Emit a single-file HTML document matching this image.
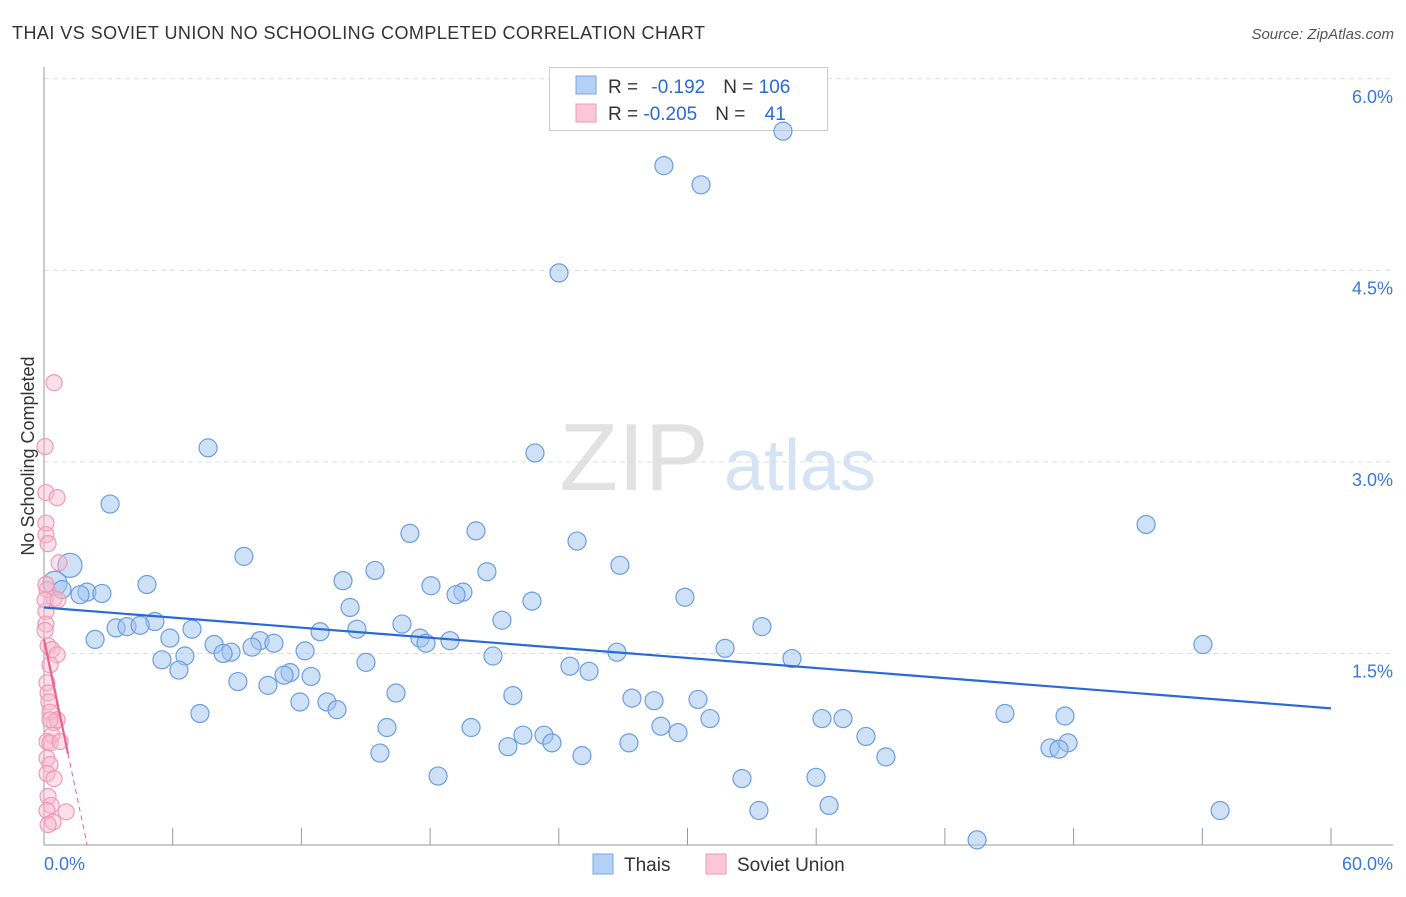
<!DOCTYPE html>
<html><head><meta charset="utf-8"><style>
body{margin:0;background:#fff;font-family:"Liberation Sans",sans-serif;}
svg text{font-family:"Liberation Sans",sans-serif;}
</style></head><body>
<svg id="chart" width="1406" height="892" xmlns="http://www.w3.org/2000/svg">
<text x="12" y="39" font-size="18" fill="#333" textLength="693" lengthAdjust="spacing">THAI VS SOVIET UNION NO SCHOOLING COMPLETED CORRELATION CHART</text>
<text x="1394" y="39" font-size="15" fill="#555" font-style="italic" text-anchor="end">Source: ZipAtlas.com</text>
<text x="634" y="490" font-size="96" fill="#e2e2e2" font-family="Liberation Serif" text-anchor="middle">ZIP</text>
<text x="800" y="490" font-size="72" fill="#d6e3f5" text-anchor="middle">atlas</text>
<text transform="translate(34,456) rotate(-90)" font-size="18" fill="#333" text-anchor="middle">No Schooling Completed</text>
<g id="grid"></g><g id="ticks"></g>
<g>
<rect x="549.5" y="67.5" width="278" height="63" fill="#fff" stroke="#ccc"/>
<rect x="576" y="76" width="20" height="18" fill="#b5d0f5" stroke="#7aa5e3"/>
<rect x="576" y="104" width="20" height="18" fill="#fbc6d6" stroke="#ee9ab5"/>
<text x="608" y="93" font-size="19" fill="#333">R = <tspan fill="#2a6ad8" dx="8">-0.192</tspan><tspan fill="#333" dx="18">N = </tspan><tspan fill="#2a6ad8">106</tspan></text>
<text x="608" y="120" font-size="19" fill="#333">R = <tspan fill="#2a6ad8">-0.205</tspan><tspan fill="#333" dx="18">N = </tspan><tspan fill="#2a6ad8" dx="14">41</tspan></text>
</g>
<g id="pts"></g><g id="trend"></g>
<g>
<rect x="593" y="854" width="20" height="20" fill="#b5d0f5" stroke="#7aa5e3"/>
<text x="624" y="871" font-size="19" fill="#333">Thais</text>
<rect x="706" y="854" width="20" height="20" fill="#fbc6d6" stroke="#ee9ab5"/>
<text x="737" y="871" font-size="19" fill="#333">Soviet Union</text>
</g>
</svg>
<script>
const xTicks=[0,6,12,18,24,30,36,42,48,54,60];
const yTicks=[1.5,3.0,4.5,6.0];
const blueX=[34.45,28.90,30.63,24.01,7.65,22.89,3.08,51.38,20.14,17.06,24.85,9.32,1.21,26.85,15.43,20.65,13.94,4.80,18.04,0.51,0.84,2.00,1.68,2.70,19.53,19.21,29.88,22.75,14.27,21.35,5.17,16.69,33.47,3.36,3.87,4.48,6.90,12.87,14.59,2.38,5.87,17.53,17.81,18.93,10.07,10.72,7.93,9.70,54.03,8.72,8.35,12.17,31.75,26.71,20.93,6.57,5.50,34.87,6.29,24.52,25.41,11.47,11.19,12.45,15.01,9.04,10.44,16.41,21.86,27.41,28.44,30.49,11.93,13.19,13.66,7.27,44.80,47.60,31.05,36.27,37.25,15.99,19.91,28.76,29.56,22.33,23.31,38.32,23.68,21.63,27.27,47.74,46.90,47.32,15.66,25.08,39.25,18.37,32.54,35.99,33.33,36.60,54.83,43.50];
const blueY=[5.59,5.32,5.17,4.48,3.11,3.07,2.67,2.51,2.46,2.44,2.38,2.26,2.19,2.19,2.15,2.14,2.07,2.04,2.03,2.05,2.00,1.98,1.96,1.97,1.98,1.96,1.94,1.91,1.86,1.76,1.75,1.73,1.71,1.70,1.71,1.72,1.69,1.67,1.69,1.61,1.62,1.62,1.58,1.60,1.60,1.58,1.57,1.55,1.57,1.51,1.50,1.52,1.54,1.51,1.48,1.48,1.45,1.46,1.37,1.40,1.36,1.35,1.33,1.32,1.43,1.28,1.25,1.19,1.17,1.15,1.13,1.14,1.12,1.12,1.06,1.03,1.03,1.01,0.99,0.99,0.99,0.92,0.92,0.93,0.88,0.86,0.86,0.85,0.80,0.77,0.80,0.80,0.76,0.75,0.72,0.70,0.69,0.54,0.52,0.53,0.27,0.31,0.27,0.04];
const pinkX=[0.47,0.05,0.09,0.61,0.09,0.09,0.19,0.70,0.14,0.47,0.09,0.09,0.05,0.19,0.37,0.61,0.28,0.14,0.19,0.23,0.28,0.47,0.61,0.37,0.14,0.28,0.75,0.14,0.28,0.14,0.47,0.19,0.33,0.14,1.03,0.42,0.19,0.09,0.05,0.65,0.28];
const pinkY=[3.62,3.12,2.76,2.72,2.52,2.43,2.36,2.21,2.00,1.93,1.83,1.73,1.68,1.56,1.53,1.49,1.41,1.27,1.19,1.12,1.04,0.96,0.98,0.86,0.81,0.80,0.81,0.68,0.63,0.56,0.52,0.38,0.31,0.27,0.26,0.18,0.16,2.04,1.92,1.92,0.98];
const blueTrend=[1.86,1.07]; // value at x=0, x=60
const pinkTrend=[1.61,-0.80]; // intercept, slope per %
const pinkSolidEnd=1.12;
const X=v=>44+v*21.45, Y=v=>845-v*127.7;
const NS='http://www.w3.org/2000/svg';
function mk(tag,attrs,parent){const e=document.createElementNS(NS,tag);for(const k in attrs)e.setAttribute(k,attrs[k]);document.getElementById(parent).appendChild(e);return e;}
yTicks.forEach(t=>{
 const l=mk('line',{x1:44,x2:1393,y1:Y(t),y2:Y(t),stroke:'#ddd','stroke-dasharray':'5,4'},'grid');
 
 
 const tx=mk('text',{x:1393,y:Y(t)+24,'font-size':18,fill:'#3a78d8','text-anchor':'end'},'grid');
 tx.textContent=t.toFixed(1)+'%';
 
 
});
const ax=mk('path',{d:'M44 67V845H1393',stroke:'#999',fill:'none'},'ticks');


xTicks.forEach(t=>{
 const l=mk('line',{x1:X(t),x2:X(t),y1:828,y2:845,stroke:'#999'},'ticks');
 
 
});
[[0,'start',44],[60,'end',1393]].forEach(([v,a,px])=>{
 const tx=mk('text',{x:px,y:870,'font-size':18,fill:'#3a78d8','text-anchor':a},'ticks');
 tx.textContent=v.toFixed(1)+'%';
 
 
});
blueX.forEach((x,i)=>{
 const big=(x<1.3&&blueY[i]>2.0);
 const c=mk('circle',{cx:X(x),cy:Y(blueY[i]),r:big?12:9,fill:'rgba(160,196,240,0.5)',stroke:'#6b9de0','stroke-width':1.2},'pts');
 
 
});
pinkX.forEach((x,i)=>{
 const c=mk('circle',{cx:X(x),cy:Y(pinkY[i]),r:8,fill:'rgba(248,185,205,0.45)',stroke:'#ef9ab6','stroke-width':1.2},'pts');
 
 
});
const bl=mk('line',{x1:X(0),y1:Y(blueTrend[0]),x2:X(60),y2:Y(blueTrend[1]),stroke:'#2a6ad8','stroke-width':2.2},'trend');


const pz=-pinkTrend[0]/pinkTrend[1];
const pd=mk('line',{x1:X(pinkSolidEnd),y1:Y(pinkTrend[0]+pinkTrend[1]*pinkSolidEnd),x2:X(pz),y2:Y(0),stroke:'#e8628c','stroke-width':1,'stroke-dasharray':'5,4'},'trend');


const ps=mk('line',{x1:X(0),y1:Y(pinkTrend[0]),x2:X(pinkSolidEnd),y2:Y(pinkTrend[0]+pinkTrend[1]*pinkSolidEnd),stroke:'#e8628c','stroke-width':2.2},'trend');


</script>
</body></html>
